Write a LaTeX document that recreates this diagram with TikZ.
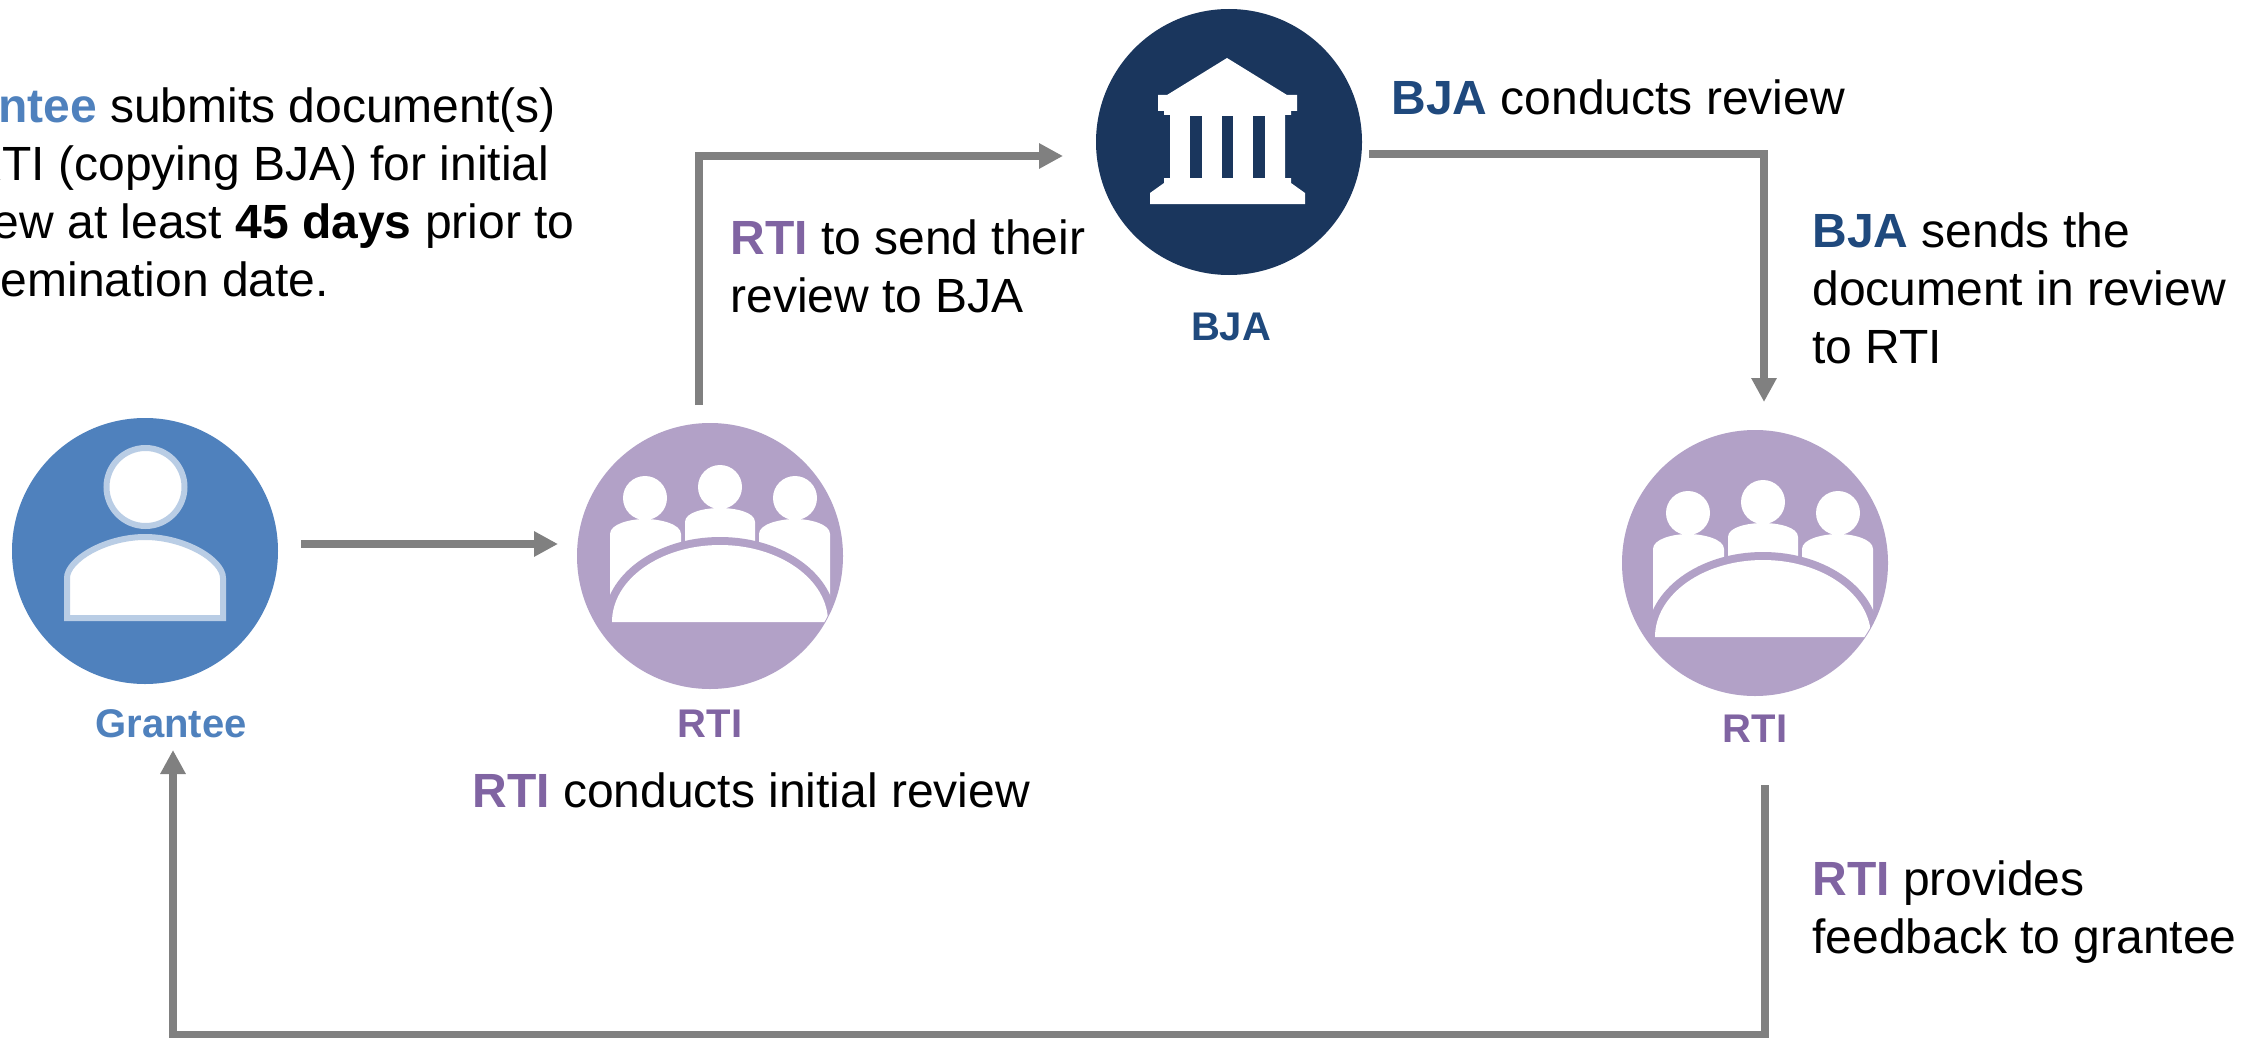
\documentclass[tikz,border=0pt]{standalone}
\usepackage{fontspec}
\setmainfont{Liberation Sans}
\usetikzlibrary{arrows.meta,calc}
\definecolor{granteeblue}{RGB}{79,129,189}
\definecolor{lightblue}{RGB}{185,205,229}
\definecolor{rtipurple}{RGB}{178,161,199}
\definecolor{rtitext}{RGB}{128,100,162}
\definecolor{bjanavy}{RGB}{26,54,93}
\definecolor{bjatext}{RGB}{31,73,125}
\definecolor{arrowgray}{RGB}{128,128,128}
\newcommand{\rtiw}{\textcolor{rtitext}{\textbf{RTI}}}
\newcommand{\bjaw}{\textcolor{bjatext}{\textbf{BJA}}}
% #1 = disc node name, #2,#3 = table base centre
\newcommand{\grpicon}[3]{%
  \begin{scope}
    \clip (#1.center) circle[radius=132];
    \begin{scope}[shift={(#2,#3)}]
    \fill[white] (-75,-124) circle[radius=22];
    \fill[white] (0,-135) circle[radius=22];
    \fill[white] (75,-124) circle[radius=22];
    \fill[white] (-110,-25) -- (-110,-88) .. controls (-110,-98) and (-90,-103) .. (-75,-103)
       .. controls (-60,-103) and (-39,-98) .. (-39,-88) -- (-39,-25) -- cycle;
    \fill[white] (110,-25) -- (110,-88) .. controls (110,-98) and (90,-103) .. (75,-103)
       .. controls (60,-103) and (39,-98) .. (39,-88) -- (39,-25) -- cycle;
    \fill[white] (-35,-60) -- (-35,-100) .. controls (-35,-110) and (-15,-114) .. (0,-114)
       .. controls (15,-114) and (35,-110) .. (35,-100) -- (35,-60) -- cycle;
    \fill[rtipurple] (-116,0) arc[start angle=180,end angle=360,x radius=116,y radius=85] -- cycle;
    \fill[white] (-108,0) arc[start angle=180,end angle=360,x radius=108,y radius=77] -- cycle;
    \end{scope}
  \end{scope}}
\tikzset{
  txt/.style={font=\fontsize{24}{29}\selectfont, inner sep=0pt, align=left, anchor=base west, text=black},
  lbl/.style={font=\fontsize{20}{24}\selectfont\bfseries, inner sep=0pt, anchor=base},
  conn/.style={draw=arrowgray, line width=3.6pt, -{Triangle[length=12pt,width=12pt]}},
  disc/.style={circle, inner sep=0pt, minimum size=133pt, draw=none}
}
\begin{document}
\begin{tikzpicture}[x=0.5pt,y=-0.5pt]
\useasboundingbox (0,0) rectangle (2259,1038);
\clip (0,0) rectangle (2259,1038);
\fill[white] (0,0) rectangle (2259,1038);

% circles
\node[disc, fill=granteeblue] (grantee) at (145,551) {};
\node[disc, fill=rtipurple] (rti1) at (710,556) {};
\node[disc, fill=bjanavy] (bja) at (1229,142) {};
\node[disc, fill=rtipurple] (rti2) at (1755,563) {};

% person icon
\draw[lightblue, line width=3pt, fill=white] (145.5,487) circle[radius=39];
\draw[lightblue, line width=3pt, fill=white] (67,618) -- (67,578) .. controls (67,560) and (105,537) .. (145,537)
   .. controls (185,537) and (223,560) .. (223,578) -- (223,618) -- cycle;

% group icons
\grpicon{rti1}{720}{622}
\grpicon{rti2}{1763}{637}

% building icon
\fill[white] (1227,58) -- (1287,95) -- (1297,95) -- (1297,111) -- (1291,111) -- (1291,115) -- (1285,115)
  -- (1285,178) -- (1291,178) -- (1291,183) -- (1305,193) -- (1305,204) -- (1150,204) -- (1150,193)
  -- (1164,183) -- (1164,178) -- (1170,178) -- (1170,115) -- (1164,115) -- (1164,111) -- (1158,111)
  -- (1158,95) -- (1167,95) -- cycle;
\fill[bjanavy] (1190,116) rectangle (1202,178);
\fill[bjanavy] (1222,116) rectangle (1233,178);
\fill[bjanavy] (1253,116) rectangle (1265,178);

% labels
\node[lbl, text=granteeblue] (granteelbl) at (171,737) {Grantee};
\node[lbl, text=rtitext] (rti1lbl) at (710,737) {RTI};
\node[lbl, text=bjatext] (bjalbl) at (1231,340) {BJA};
\node[lbl, text=rtitext] (rti2lbl) at (1755,742) {RTI};

% texts (base anchor = baseline of the last line)
\node[txt] (intro) at (-85,296) {\textcolor{granteeblue}{\textbf{Grantee}} submits document(s)\\to RTI (copying BJA) for initial\\review at least \textbf{45 days} prior to\\dissemination date.};
\node[txt] (tosend) at (730,312) {\rtiw{} to send their\\review to BJA};
\node[txt] (bjarev) at (1391,115) {\bjaw{} conducts review};
\node[txt] (bjasend) at (1812,363) {\bjaw{} sends the\\document in review\\to RTI};
\node[txt] (initial) at (472,807) {\rtiw{} conducts initial review};
\node[txt] (feedback) at (1812,953) {\rtiw{} provides\\feedback to grantee};

% connectors
\draw[conn] ($(grantee.center)+(156,-7)$) -- ($(rti1.center)+(-152,-12)$);
\draw[conn] ($(rti1.center)+(-11,-151)$) |- ($(bja.center)+(-166,14)$);
\draw[conn] ($(bja.center)+(140,12)$) -| ($(rti2.center)+(9,-161)$);
\coordinate (fb) at ($(rti2.center)+(10,472)$);
\draw[conn] ($(rti2.center)+(10,222)$) -- (fb) -| ($(grantee.center)+(28,199)$);
\end{tikzpicture}
\end{document}
